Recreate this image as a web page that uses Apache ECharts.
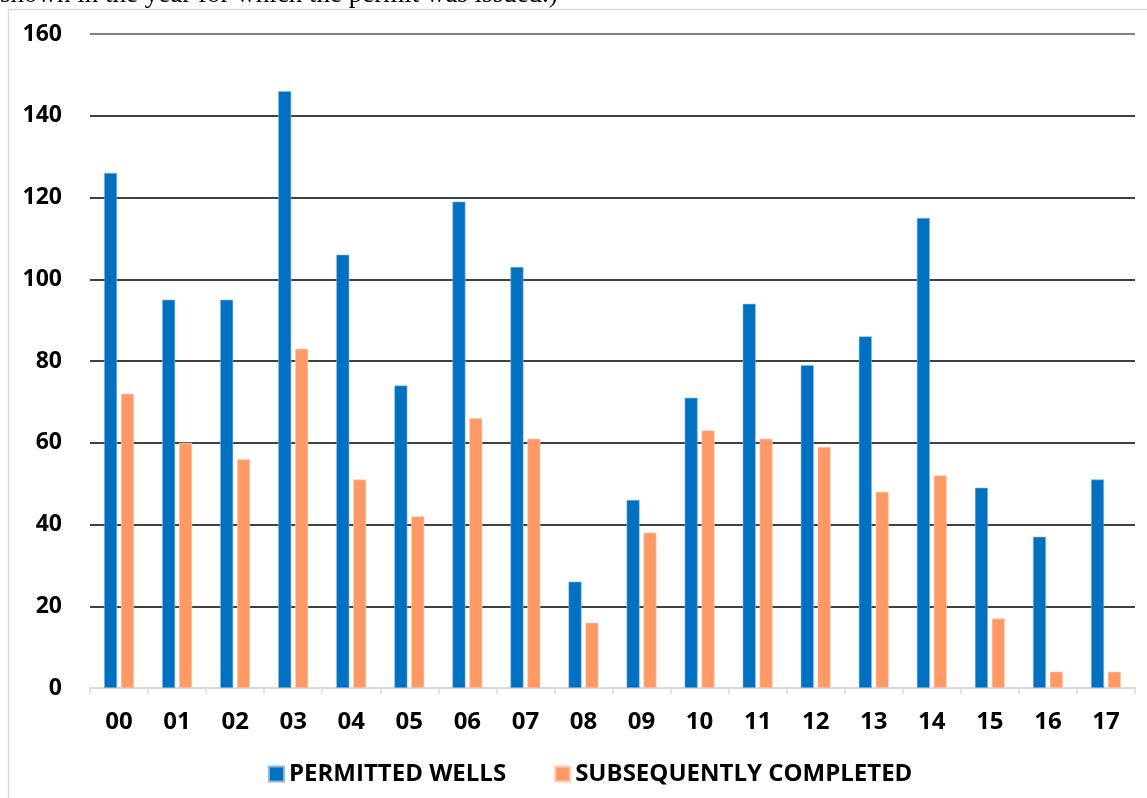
<!DOCTYPE html>
<html>
<head>
<meta charset="utf-8">
<script src="https://cdn.jsdelivr.net/npm/echarts@6/dist/echarts.min.js"></script>
<style>
  html, body { margin: 0; padding: 0; background: #fff; }
  #chart { width: 1147px; height: 798px; }
</style>
</head>
<body>
<div id="chart"></div>
<script>
const years = ["00", "01", "02", "03", "04", "05", "06", "07", "08",
  "09", "10", "11", "12", "13", "14", "15", "16", "17"];
const permittedWells = [126, 95, 95, 146, 106, 74, 119, 103, 26,
  46, 71, 94, 79, 86, 115, 49, 37, 51];
const subsequentlyCompleted = [72, 60, 56, 83, 51, 42, 66, 61, 16,
  38, 63, 61, 59, 48, 52, 17, 4, 4];
const captionText = "shown in the year for which the permit was issued.)";

const font = "'Open Sans', sans-serif";

const chart = echarts.init(document.getElementById("chart"), null, {
  renderer: "canvas",
});

chart.setOption({
  animation: false,
  backgroundColor: "#ffffff",
  graphic: [
    {
      type: "rect",
      shape: { x: 8.5, y: 9.5, width: 1160, height: 820 },
      style: { fill: "none", stroke: "#d9d9d9", lineWidth: 1.5 },
    },
    {
      type: "text",
      left: 0,
      top: -19,
      style: {
        text: captionText,
        font: "27px 'Liberation Serif', 'DejaVu Serif', serif",
        fill: "#000",
      },
    },
  ],
  legend: {
    top: 757,
    left: 263,
    itemWidth: 15,
    itemHeight: 15,
    itemGap: 48,
    icon: "rect",
    textStyle: {
      fontFamily: font,
      fontWeight: "bold",
      fontSize: 24,
      color: "#000",
    },
  },
  grid: {
    left: 90,
    right: 12,
    top: 34,
    bottom: 110,
    containLabel: false,
  },
  xAxis: {
    type: "category",
    data: years,
    axisLine: { lineStyle: { color: "#d9d9d9", width: 2 } },
    axisTick: { show: true, length: 6, lineStyle: { color: "#d9d9d9", width: 1.5 } },
    axisLabel: {
      margin: 22,
      fontFamily: font,
      fontWeight: "bold",
      fontSize: 24,
      color: "#000",
    },
  },
  yAxis: {
    type: "value",
    min: 0,
    max: 160,
    interval: 20,
    axisLine: { show: false },
    axisTick: { show: false },
    axisLabel: {
      margin: 28,
      fontFamily: font,
      fontWeight: "bold",
      fontSize: 23,
      color: "#000",
    },
    splitLine: {
      lineStyle: {
        color: ["#000", "#000", "#000", "#000", "#000", "#000", "#000", "#000", "#595959"],
        width: 1.6,
      },
    },
  },
  series: [
    {
      name: "PERMITTED WELLS",
      type: "bar",
      data: permittedWells,
      barWidth: 13,
      barGap: "30%",
      itemStyle: { color: "#0070c0", borderColor: "#8db8e0", borderWidth: 0.6 },
    },
    {
      name: "SUBSEQUENTLY COMPLETED",
      type: "bar",
      data: subsequentlyCompleted,
      barWidth: 13,
      itemStyle: { color: "#ff9966", borderColor: "#ffd0b8", borderWidth: 0.6 },
    },
  ],
});
</script>
</body>
</html>
